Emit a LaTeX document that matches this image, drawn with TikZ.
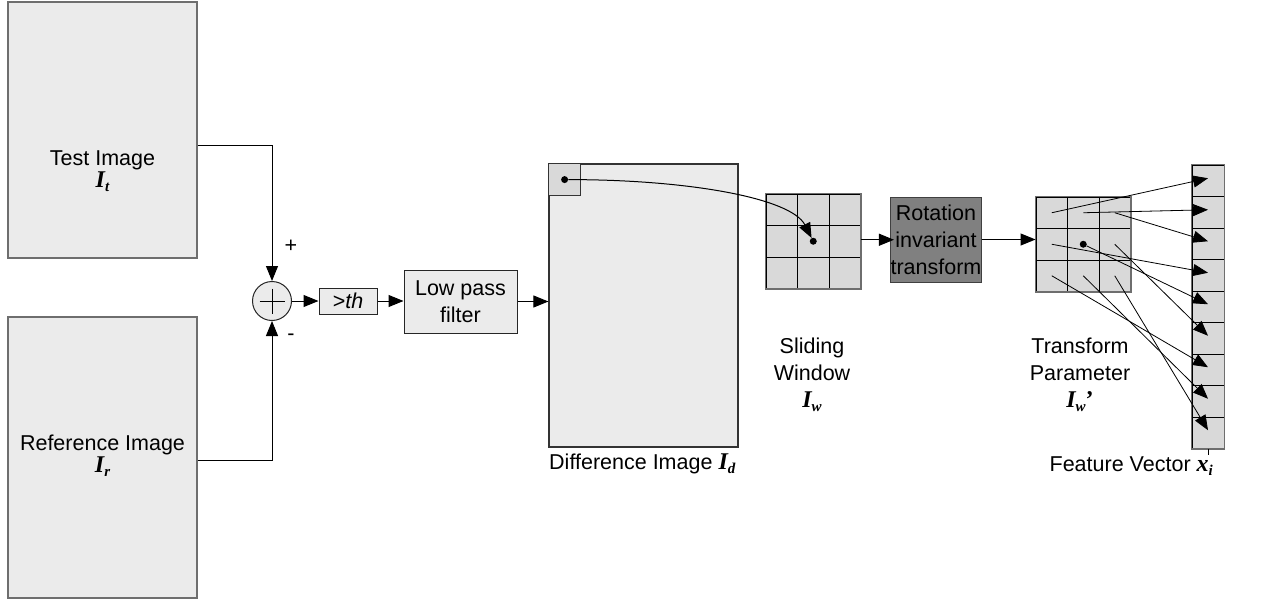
\documentclass[tikz,border=0pt]{standalone}
\usepackage{fontspec}
\setmainfont{Liberation Sans}
\newfontfamily\symserif{Liberation Serif}
\usetikzlibrary{arrows.meta}
\definecolor{boxfill}{HTML}{EBEBEB}
\definecolor{cellfill}{HTML}{D9D9D9}
\definecolor{rotfill}{HTML}{808080}
\definecolor{edgegray}{HTML}{6E6E6E}
\newcommand{\imsym}[2]{{\fontsize{24}{27}\symserif\bfseries\itshape #1\raisebox{-0.35ex}{\fontsize{15}{15}\selectfont #2}}}
\begin{document}
\begin{tikzpicture}[x=1pt,y=-1pt,font=\fontsize{21.5}{27}\selectfont,
  img/.style={draw=edgegray,fill=boxfill,line width=1.2pt},
  block/.style={draw=black!85,fill=boxfill,line width=1pt,align=center},
  cell/.style={draw=black,fill=cellfill,minimum size=31.5pt,line width=0.9pt},
  rim/.style={draw=edgegray,line width=1.2pt},
  dot/.style={circle,fill=black,minimum size=7pt},
  arr/.style={-{Triangle[length=15pt,width=12pt]},line width=1pt}]
\tikzstyle{every node}+=[inner sep=0pt]
\useasboundingbox (0,0) rectangle (1277,602);
% input images
\node[img,minimum width=189pt,minimum height=256pt] (test) at (102.5,130) {};
\node[img,minimum width=189pt,minimum height=281pt] (ref) at (102.5,457.5) {};
\node (testlbl) at (102.5,160) {Test Image};
\node (testsym) at (102.5,182) {\imsym{I}{t}};
\node (reflbl) at (102.5,445) {Reference Image};
\node (refsym) at (102.5,467) {\imsym{I}{r}};
% subtraction
\node[circle,draw=black!85,fill=boxfill,line width=1pt,minimum size=39pt] (sum) at (272,301) {};
\draw[line width=0.9pt] (sum.center) +(-12.5,0) -- +(12.5,0) (sum.center) +(0,-12.5) -- +(0,12.5);
\node (plus) at (291,246) {+};
\node (minus) at (291,337) {-};
\draw[arr] ([yshift=-15pt]test.east) -| (sum.north);
\draw[arr] ([yshift=-2.5pt]ref.east) -| (sum.south);
\node[block,minimum width=58pt,minimum height=26pt] (th) at (348,301) {>\textit{th}};
\node[block,minimum width=113pt,minimum height=63pt] (lpf) at (460.5,301.5) {Low pass\\filter};
\draw[arr] (sum.east) -- (th.west);
\draw[arr] (th.east) -- (th.east -| lpf.west);
% difference image
\node[img,draw=black!80,minimum width=189pt,minimum height=283pt] (diff) at (643.5,305.5) {};
\draw[arr] (lpf.east) -- (lpf.east -| diff.west);
\node[cell,draw=black!80,anchor=north west] (win) at (diff.north west) {};
\node[dot] (d1) at (win.center) {};
\node (difflbl) [anchor=west] at (549,464) {Difference Image \imsym{I}{d}};
% sliding window
\foreach \r in {1,2,3}
  \foreach \c in {1,2,3}
    \node[cell] (s\r\c) at ({750.25+31.5*\c},{178.25+31.5*\r}) {};
\draw[rim] (s11.north west) rectangle (s33.south east);
\node[dot] (d2) at (s22.center) {};
\draw[arr] (d1) .. controls +(125,0) and +(-22,-43) .. (d2);
\node (slidelbl) [align=center] at (812,375) {Sliding\\Window\\\imsym{I}{w}};
% rotation invariant transform
\node[block,fill=rotfill,draw=black!75,minimum width=84pt,minimum height=85pt] (rot) at (936,239.5) {Rotation\\invariant\\transform};
\draw[arr] (s21.east -| s23.east) ++(0,-1.5) -- ++(33,0);
% transform parameter
\foreach \r in {1,2,3}
  \foreach \c in {1,2,3}
    \node[cell] (t\r\c) at ({1020.25+31.5*\c},{181.25+31.5*\r}) {};
\draw[rim] (t11.north west) rectangle (t33.south east);
\node[dot] (d3) at (t22.center) {};
\draw[arr] (rot.east) -- (rot.east -| t11.west);
\node (translbl) [align=center] at (1080,375) {Transform\\Parameter\\\imsym{I}{w}{\fontsize{24}{27}\symserif\bfseries ’}};
% feature vector
\foreach \k in {1,...,9}
  \node[cell,minimum width=32pt] (v\k) at (1208,{149.25+31.5*\k}) {};
\draw[rim] (v1.north west) rectangle (v9.south east);
\draw[line width=1pt] (v9.south) -- ++(0,6);
\node (featlbl) [anchor=east] at (1213,466) {Feature Vector \imsym{x}{i}};
\foreach \r/\c/\k in {1/1/1,1/2/2,1/3/3,2/1/4,2/3/6,3/1/7,3/2/8,3/3/9}
  \draw[arr,line width=0.8pt] (t\r\c.center) -- ([yshift=2.5pt]v\k.center);
\draw[arr,line width=0.8pt] (d3) -- ([yshift=2.5pt]v5.center);
\end{tikzpicture}
\end{document}
